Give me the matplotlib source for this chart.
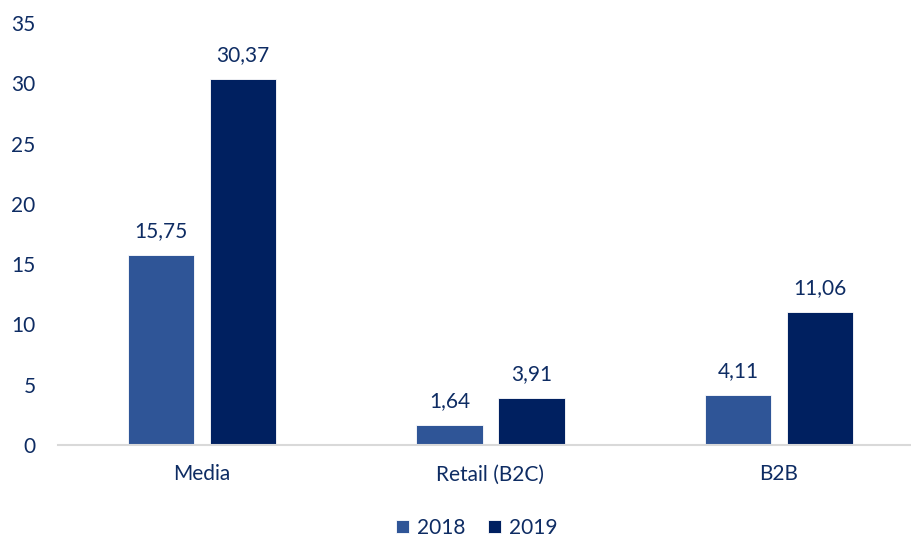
import matplotlib
matplotlib.use("Agg")
import matplotlib.pyplot as plt
import numpy as np

categories = ["Media", "Retail (B2C)", "B2B"]
values_2018 = [15.75, 1.64, 4.11]
values_2019 = [30.37, 3.91, 11.06]
series_names = ["2018", "2019"]
y_ticks = [0, 5, 10, 15, 20, 25, 30, 35]

color_2018 = "#2F5597"
color_2019 = "#002060"
text_color = "#0E2C63"

plt.rcParams["font.family"] = ["Lato", "DejaVu Sans"]

fig = plt.figure(figsize=(9.12, 5.41), dpi=100)
W, H = 912, 541
ax = fig.add_axes([57.75 / W, 96 / H, 865.5 / W, 422 / H])

x = np.arange(len(categories))
width = 0.229
offset = 0.142
fs = 15

def fmt(v):
    return f"{v:.2f}".replace(".", ",")

for vals, dx, col, name in [(values_2018, -offset, color_2018, series_names[0]),
                            (values_2019, offset, color_2019, series_names[1])]:
    bars = ax.bar(x + dx, vals, width, color=col, label=name,
                  edgecolor="white", linewidth=0.6)
    for b, v in zip(bars, vals):
        ax.annotate(fmt(v), (b.get_x() + b.get_width() / 2, v),
                    xytext=(0, 10), textcoords="offset points",
                    ha="center", va="bottom", fontsize=fs, color=text_color)

ax.set_xlim(-0.5, 2.5)
ax.set_ylim(0, 35)
ax.set_yticks(y_ticks)
ax.set_xticks(x)
ax.set_xticklabels(categories)
ax.tick_params(axis="y", length=0, pad=16, labelsize=fs, labelcolor=text_color)
ax.tick_params(axis="x", length=0, pad=14, labelsize=fs, labelcolor=text_color)

for s in ["top", "right", "left"]:
    ax.spines[s].set_visible(False)
ax.spines["bottom"].set_color("#D9D9D9")
ax.spines["bottom"].set_linewidth(1.5)
ax.spines["bottom"].set_clip_on(False)

leg = fig.legend(loc="center", bbox_to_anchor=(477 / W, 1 - 528 / H),
                 ncol=2, frameon=False, fontsize=fs, handlelength=0.6,
                 handleheight=0.6, handletextpad=0.4, columnspacing=1.1)
for t in leg.get_texts():
    t.set_color(text_color)

fig.savefig("out.png", dpi=100)
